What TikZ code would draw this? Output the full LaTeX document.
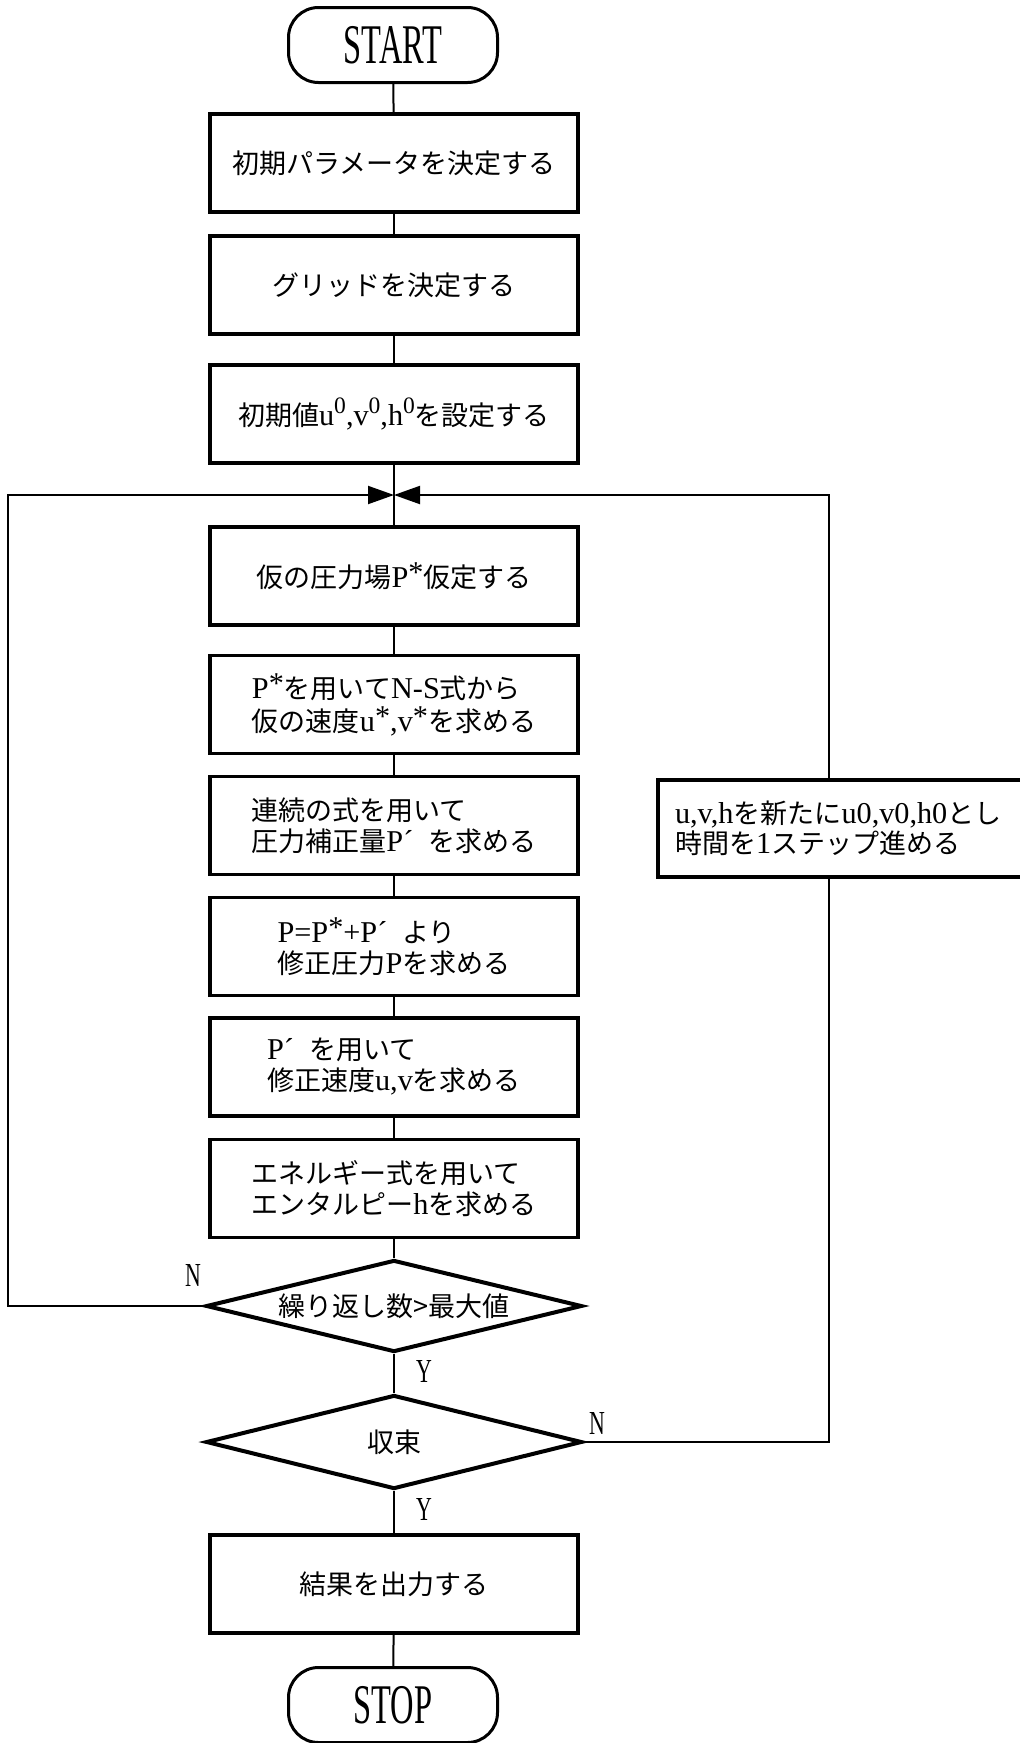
\documentclass[tikz,border=0pt]{standalone}
\usepackage{graphicx}
\usepackage{fontspec}
\setmainfont{Liberation Serif}[Scale=1.12]
\newfontfamily\jp{Noto Sans CJK JP}
\usetikzlibrary{shapes.geometric,arrows.meta}
\newcommand\sups[1]{\raisebox{0.42em}{\fontsize{21}{21}\selectfont #1}}
\newcommand\pst{\raisebox{0.16em}{*}}
\newcommand\cond[2]{\scalebox{#1}[1]{#2}}
\begin{document}
\begin{tikzpicture}[x=1pt,y=-1pt,
  box/.style={draw, line width=3.5pt, minimum width=368pt, minimum height=98pt, inner sep=0pt, font=\fontsize{27}{31}\selectfont, align=left},
  term/.style={draw, line width=3pt, rounded corners=30pt, minimum width=209pt, minimum height=75pt, inner sep=0pt},
  dia/.style={draw, diamond, line width=4pt, minimum width=376pt, minimum height=92pt, inner sep=0pt, font=\fontsize{27}{30}\selectfont},
  conn/.style={line width=2pt},
  arr/.style={conn, -{Triangle[length=26pt,width=18pt]}},
  yn/.style={font=\fontsize{30}{30}\selectfont, inner sep=0pt}]
\useasboundingbox (0,0) rectangle (1020,1743);
\clip (0,0) rectangle (1020,1743);

\node[term] (start) at (393,45) {\cond{0.58}{\fontsize{50}{50}\selectfont START}};
\node[box] (b1) at (394,163) {{\jp 初期パラメータを決定する}};
\node[box] (b2) at (394,285) {{\jp グリッドを決定する}};
\node[box] (b3) at (394,414) {{\jp 初期値}u\sups{0},v\sups{0},h\sups{0}{\jp を設定する}};
\node[box] (b4) at (394,576) {{\jp 仮の圧力場}P\pst{\jp 仮定する}};
\node[box, font=\fontsize{27}{33}\selectfont] (b5) at (394,704.5) {P\pst{\jp を用いて}N-S{\jp 式から}\\{\jp 仮の速度}u\pst,v\pst{\jp を求める}};
\node[box] (b6) at (394,825.5) {{\jp 連続の式を用いて}\\{\jp 圧力補正量}P´\hspace{0.5em}{\jp を求める}};
\node[box] (b7) at (394,946.5) {P=P\pst+P´\hspace{0.5em}{\jp より}\\{\jp 修正圧力}P{\jp を求める}};
\node[box] (b8) at (394,1067) {P´\hspace{0.5em}{\jp を用いて}\\{\jp 修正速度}u,v{\jp を求める}};
\node[box] (b9) at (394,1188.5) {{\jp エネルギー式を用いて}\\{\jp エンタルピー}h{\jp を求める}};
\node[dia] (d1) at (394,1306) {\makebox[0pt]{\jp 繰り返し数>最大値}};
\node[dia, minimum height=94pt] (d2) at (394,1442) {\makebox[0pt]{\jp 収束}};
\node[box] (b10) at (394,1584) {{\jp 結果を出力する}};
\node[term] (stop) at (393,1705) {\cond{0.58}{\fontsize{50}{50}\selectfont STOP}};
\node[draw, line width=3.5pt, minimum width=382pt, minimum height=97pt, text width=348pt, inner xsep=17pt, inner ysep=0pt, align=left, font=\fontsize{27}{30}\selectfont] (rb) at (849,828.5)
  {u,v,h{\jp を新たに}u0,v0,h0{\jp とし}\\{\jp 時間を}1{\jp ステップ進める}};

\coordinate (J) at (394,495);
\coordinate (L1) at (8,1306);
\coordinate (R1) at (829,1442);

\draw[conn] (start) -- (b1);
\draw[conn] (b1) -- (b2);
\draw[conn] (b2) -- (b3);
\draw[conn] (b3) -- (J) -- (b4);
\draw[conn] (b4) -- (b5);
\draw[conn] (b5) -- (b6);
\draw[conn] (b6) -- (b7);
\draw[conn] (b7) -- (b8);
\draw[conn] (b8) -- (b9);
\draw[conn] (b9) -- (d1);
\draw[conn] (d1) -- (d2);
\draw[conn] (d2) -- (b10);
\draw[conn] (b10) -- (stop);
\draw[arr] (d1.west) -- (L1) |- (J);
\draw[conn] (d2.east) -- (R1) -- (R1 |- rb.south);
\draw[arr] (rb.north -| R1) |- (J);

\node[yn] (n1) at (193,1275) {\cond{0.65}{N}};
\node[yn] (y1) at (424,1371) {\cond{0.65}{Y}};
\node[yn] (n2) at (597,1423) {\cond{0.65}{N}};
\node[yn] (y2) at (424,1509) {\cond{0.65}{Y}};
\end{tikzpicture}
\end{document}
